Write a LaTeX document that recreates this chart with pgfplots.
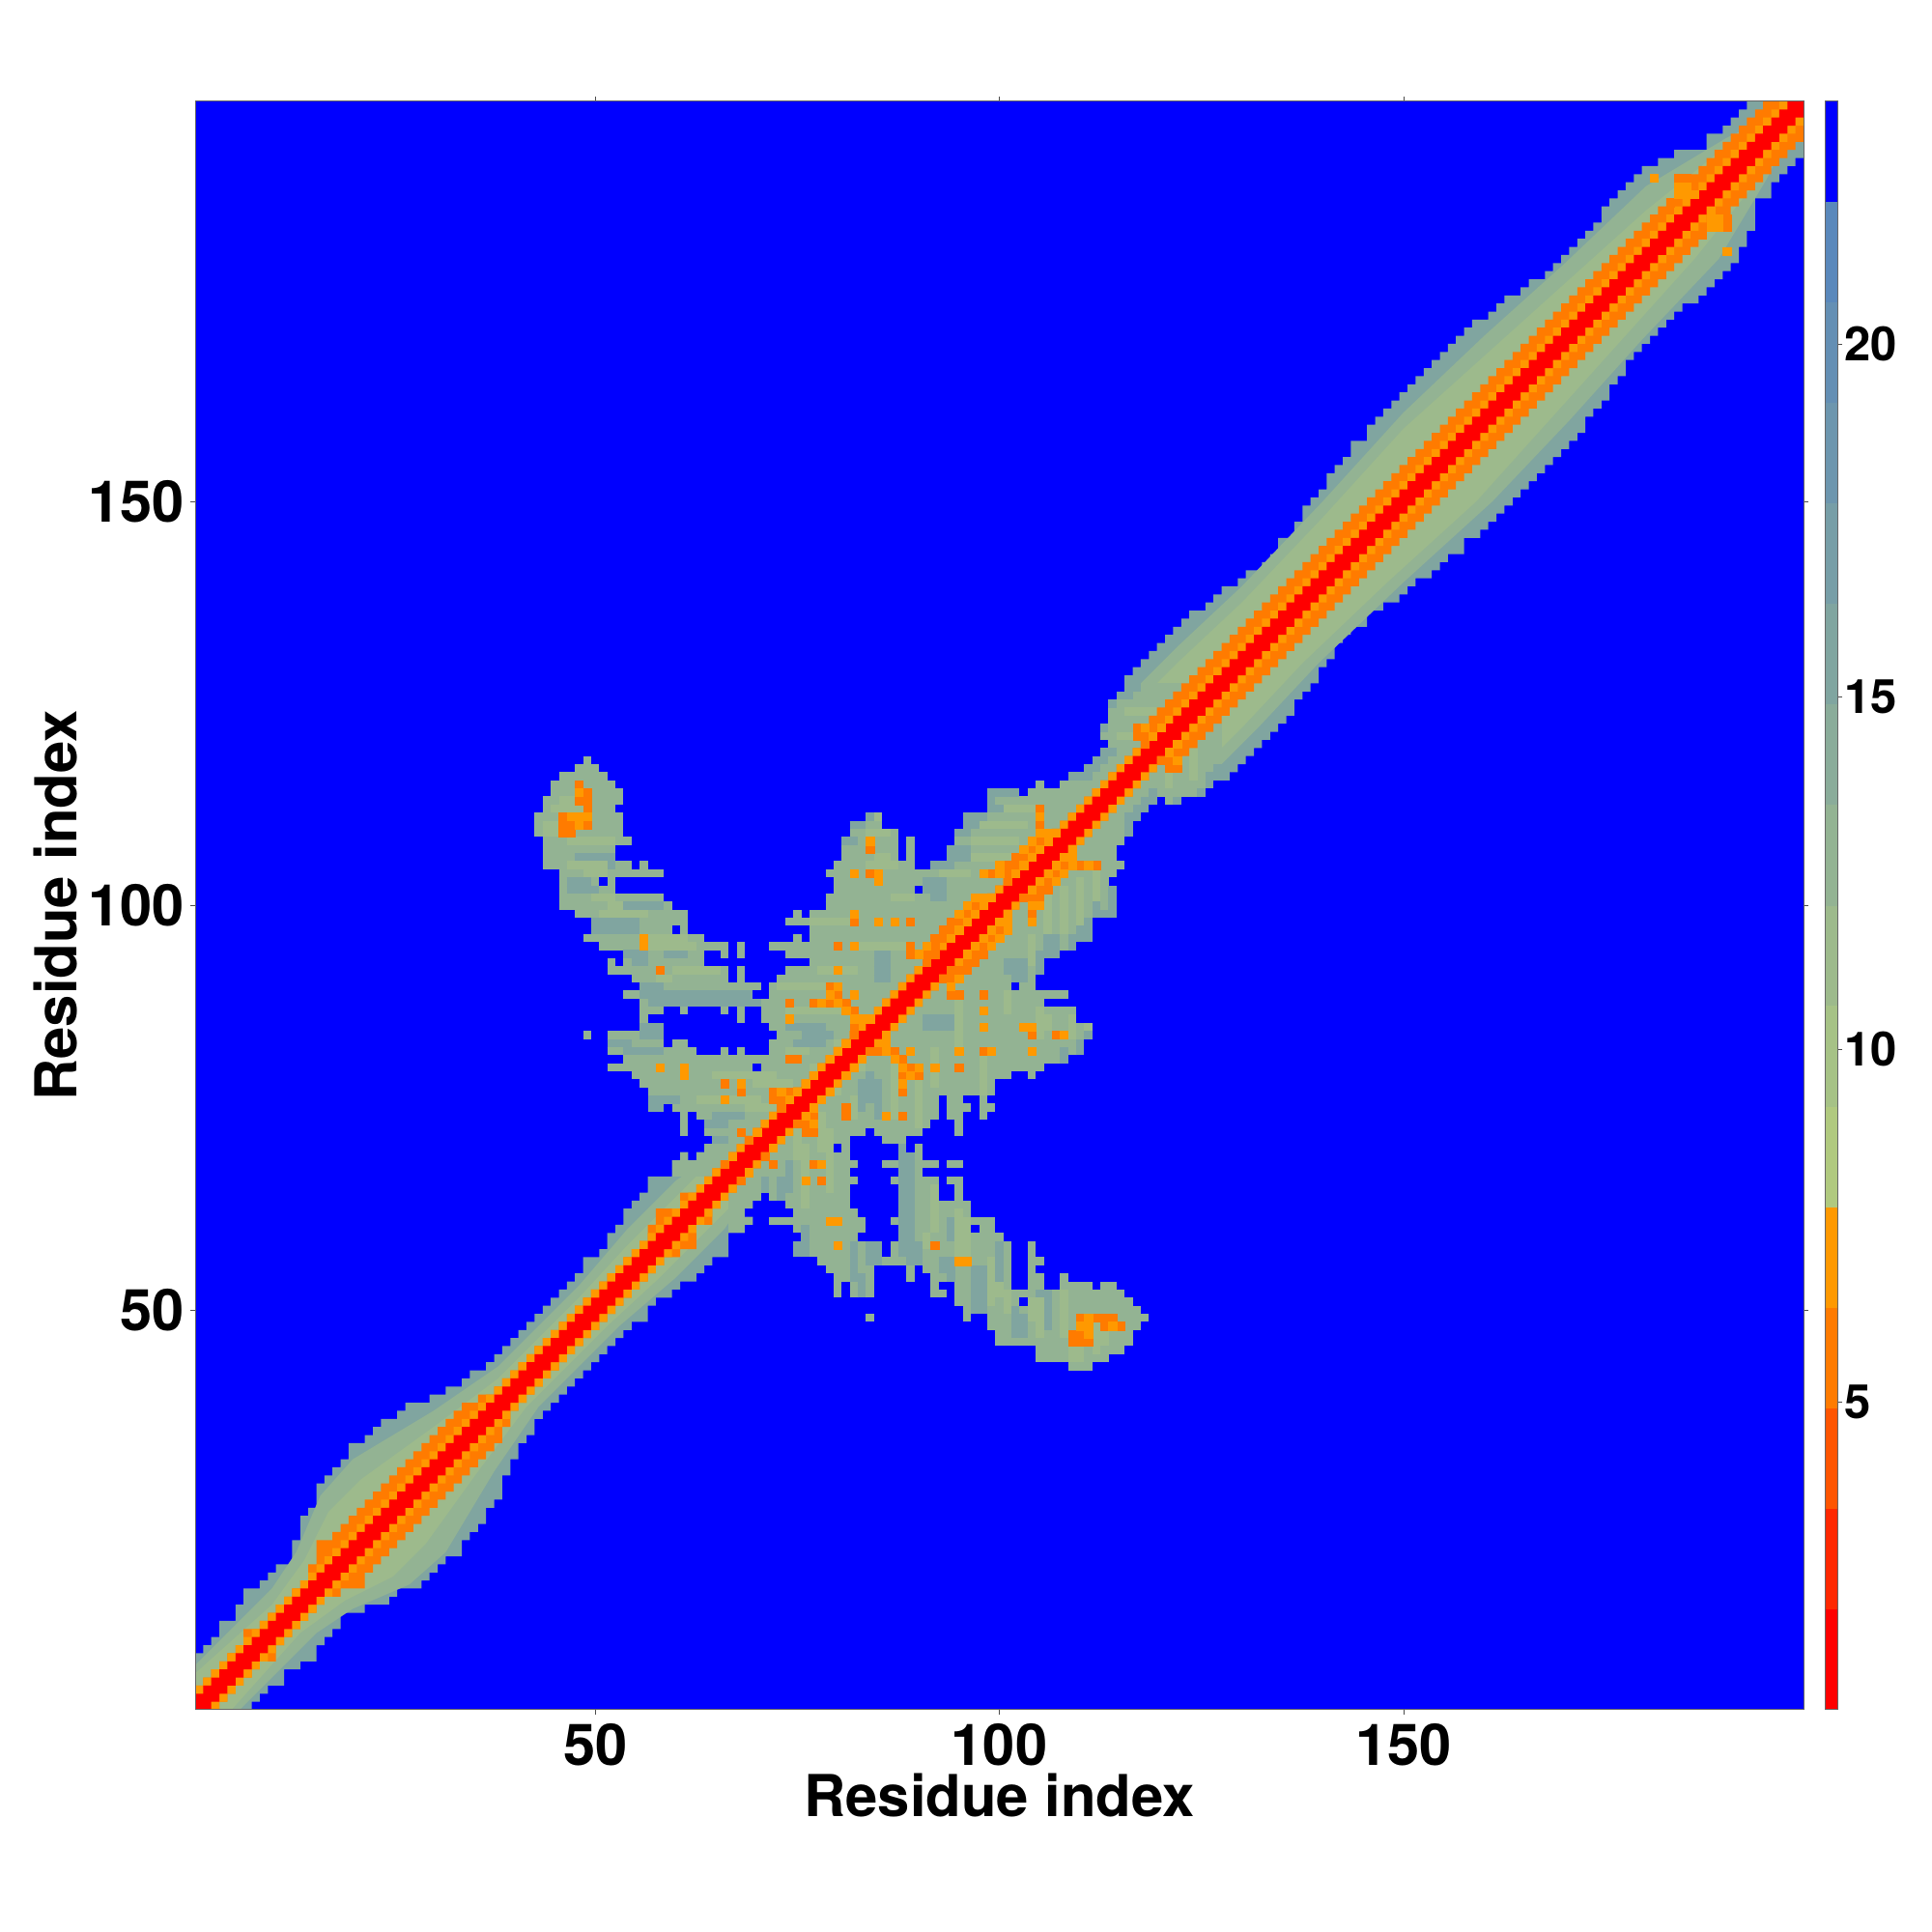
\documentclass[border=0pt]{standalone}
\usepackage{fontspec}
\setmainfont{TeX Gyre Heros}
\usepackage{pgfplots}
\usepackage{pgfplotstable}
\pgfplotsset{compat=1.18}
\definecolor{c0}{RGB}{255,0,0}
\definecolor{c1}{RGB}{255,40,0}
\definecolor{c2}{RGB}{255,85,0}
\definecolor{c3}{RGB}{255,123,0}
\definecolor{c4}{RGB}{255,153,0}
\definecolor{g0}{RGB}{176,201,127}
\definecolor{g1}{RGB}{166,194,134}
\definecolor{g2}{RGB}{157,186,140}
\definecolor{g3}{RGB}{147,179,147}
\definecolor{g4}{RGB}{138,172,154}
\definecolor{g5}{RGB}{128,165,160}
\definecolor{g6}{RGB}{119,158,167}
\definecolor{g7}{RGB}{109,150,174}
\definecolor{g8}{RGB}{100,143,180}
\definecolor{g9}{RGB}{90,136,187}
% band: x = left edge of column; o,d,l,r = top of outer, dark orange, light orange, red
\pgfplotstableread{
x o d l r
0.5 0.5 0.5 0.5 0.5
0.5 7.5 3.5 3.5 2.5
1.5 8.5 4.5 4.5 3.5
2.5 9.5 5.5 5.5 4.5
3.5 11.5 6.5 6.5 5.5
4.5 11.5 7.5 7.5 6.5
5.5 13.5 8.5 8.5 7.5
6.5 15.5 10.5 9.5 8.5
7.5 15.5 10.5 10.5 9.5
8.5 16.5 11.5 11.5 10.5
9.5 17.5 12.5 12.5 11.5
10.5 18.5 13.5 13.5 12.5
11.5 18.5 14.5 14.5 13.5
12.5 21.5 15.5 15.5 14.5
13.5 24.5 16.5 16.5 15.5
14.5 25.5 18.5 17.5 16.5
15.5 28.5 21.5 18.5 17.5
16.5 29.5 21.5 19.5 18.5
17.5 30.5 22.5 20.5 19.5
18.5 31.5 23.5 21.5 20.5
19.5 33.5 24.5 22.5 21.5
20.5 33.5 25.5 23.5 22.5
21.5 34.5 26.5 24.5 23.5
22.5 35.5 27.5 25.5 24.5
23.5 36.5 28.5 26.5 25.5
24.5 36.5 29.5 27.5 26.5
25.5 37.5 30.5 28.5 27.5
26.5 38.5 31.5 29.5 28.5
27.5 38.5 32.5 30.5 29.5
28.5 38.5 33.5 31.5 30.5
29.5 39.5 34.5 32.5 31.5
30.5 39.5 35.5 33.5 32.5
31.5 40.5 36.5 34.5 33.5
32.5 40.5 37.5 35.5 34.5
33.5 41.5 38.5 36.5 35.5
34.5 42.5 38.5 37.5 36.5
35.5 42.5 39.5 38.5 37.5
36.5 43.5 39.5 39.5 38.5
37.5 44.5 40.5 40.5 39.5
38.5 45.5 41.5 41.5 40.5
39.5 46.5 42.5 42.5 41.5
40.5 47.5 43.5 43.5 42.5
41.5 48.5 44.5 44.5 43.5
42.5 49.5 45.5 45.5 44.5
43.5 50.5 46.5 46.5 45.5
44.5 51.5 47.5 47.5 46.5
45.5 52.5 48.5 48.5 47.5
46.5 53.5 49.5 49.5 48.5
47.5 54.5 50.5 50.5 49.5
48.5 56.5 51.5 51.5 50.5
49.5 56.5 52.5 52.5 51.5
50.5 57.5 53.5 53.5 52.5
51.5 59.5 54.5 54.5 53.5
52.5 60.5 55.5 55.5 54.5
53.5 62.5 56.5 56.5 55.5
54.5 63.5 57.5 57.5 56.5
55.5 64.5 58.5 58.5 57.5
56.5 66.5 60.5 59.5 58.5
57.5 66.5 62.5 60.5 59.5
58.5 66.5 62.5 61.5 60.5
59.5 68.5 62.5 62.5 61.5
60.5 69.5 64.5 63.5 62.5
61.5 68.5 64.5 64.5 63.5
62.5 69.5 65.5 65.5 64.5
63.5 70.5 66.5 66.5 65.5
64.5 71.5 67.5 67.5 66.5
65.5 71.5 68.5 68.5 67.5
66.5 72.5 69.5 69.5 68.5
67.5 73.5 70.5 70.5 69.5
68.5 74.5 71.5 71.5 70.5
69.5 75.5 72.5 72.5 71.5
70.5 76.5 73.5 73.5 72.5
71.5 77.5 74.5 74.5 73.5
72.5 78.5 75.5 75.5 74.5
73.5 79.5 76.5 76.5 75.5
74.5 80.5 77.5 77.5 76.5
75.5 81.5 78.5 78.5 77.5
76.5 82.5 79.5 79.5 78.5
77.5 83.5 80.5 80.5 79.5
78.5 84.5 81.5 81.5 80.5
79.5 85.5 82.5 82.5 81.5
80.5 86.5 83.5 83.5 82.5
81.5 87.5 84.5 84.5 83.5
82.5 88.5 85.5 85.5 84.5
83.5 89.5 86.5 86.5 85.5
84.5 90.5 87.5 87.5 86.5
85.5 91.5 88.5 88.5 87.5
86.5 92.5 89.5 89.5 88.5
87.5 93.5 90.5 90.5 89.5
88.5 94.5 91.5 91.5 90.5
89.5 95.5 92.5 92.5 91.5
90.5 96.5 93.5 93.5 92.5
91.5 97.5 94.5 94.5 93.5
92.5 98.5 95.5 95.5 94.5
93.5 99.5 96.5 96.5 95.5
94.5 100.5 97.5 97.5 96.5
95.5 101.5 98.5 98.5 97.5
96.5 102.5 99.5 99.5 98.5
97.5 103.5 100.5 100.5 99.5
98.5 104.5 101.5 101.5 100.5
99.5 105.5 102.5 102.5 101.5
100.5 106.5 103.5 103.5 102.5
101.5 107.5 104.5 104.5 103.5
102.5 108.5 105.5 105.5 104.5
103.5 109.5 106.5 106.5 105.5
104.5 110.5 107.5 107.5 106.5
105.5 111.5 108.5 108.5 107.5
106.5 112.5 109.5 109.5 108.5
107.5 113.5 110.5 110.5 109.5
108.5 114.5 111.5 111.5 110.5
109.5 115.5 112.5 112.5 111.5
110.5 116.5 113.5 113.5 112.5
111.5 117.5 114.5 114.5 113.5
112.5 118.5 115.5 115.5 114.5
113.5 119.5 116.5 116.5 115.5
114.5 120.5 117.5 117.5 116.5
115.5 128.5 118.5 118.5 117.5
116.5 129.5 119.5 119.5 118.5
117.5 130.5 120.5 120.5 119.5
118.5 131.5 123.5 121.5 120.5
119.5 132.5 124.5 122.5 121.5
120.5 133.5 125.5 123.5 122.5
121.5 134.5 126.5 124.5 123.5
122.5 135.5 127.5 125.5 124.5
123.5 136.5 128.5 126.5 125.5
124.5 136.5 129.5 127.5 126.5
125.5 137.5 130.5 128.5 127.5
126.5 138.5 131.5 129.5 128.5
127.5 139.5 132.5 130.5 129.5
128.5 139.5 133.5 131.5 130.5
129.5 140.5 134.5 132.5 131.5
130.5 141.5 135.5 133.5 132.5
131.5 141.5 136.5 134.5 133.5
132.5 142.5 137.5 135.5 134.5
133.5 143.5 138.5 136.5 135.5
134.5 145.5 139.5 137.5 136.5
135.5 145.5 140.5 138.5 137.5
136.5 147.5 141.5 139.5 138.5
137.5 149.5 142.5 140.5 139.5
138.5 150.5 143.5 141.5 140.5
139.5 151.5 144.5 142.5 141.5
140.5 153.5 145.5 143.5 142.5
141.5 154.5 146.5 144.5 143.5
142.5 155.5 147.5 145.5 144.5
143.5 157.5 148.5 146.5 145.5
144.5 157.5 149.5 147.5 146.5
145.5 159.5 150.5 148.5 147.5
146.5 160.5 151.5 149.5 148.5
147.5 161.5 152.5 150.5 149.5
148.5 162.5 153.5 151.5 150.5
149.5 163.5 154.5 152.5 151.5
150.5 164.5 155.5 153.5 152.5
151.5 165.5 156.5 154.5 153.5
152.5 166.5 157.5 155.5 154.5
153.5 167.5 158.5 156.5 155.5
154.5 168.5 159.5 157.5 156.5
155.5 169.5 160.5 158.5 157.5
156.5 170.5 161.5 159.5 158.5
157.5 171.5 162.5 160.5 159.5
158.5 172.5 163.5 161.5 160.5
159.5 172.5 164.5 162.5 161.5
160.5 173.5 165.5 163.5 162.5
161.5 174.5 166.5 164.5 163.5
162.5 175.5 167.5 165.5 164.5
163.5 175.5 168.5 166.5 165.5
164.5 176.5 169.5 167.5 166.5
165.5 177.5 170.5 168.5 167.5
166.5 177.5 171.5 169.5 168.5
167.5 178.5 172.5 170.5 169.5
168.5 179.5 173.5 171.5 170.5
169.5 180.5 174.5 172.5 171.5
170.5 181.5 175.5 173.5 172.5
171.5 182.5 176.5 174.5 173.5
172.5 183.5 177.5 175.5 174.5
173.5 184.5 178.5 176.5 175.5
174.5 186.5 179.5 177.5 176.5
175.5 187.5 180.5 178.5 177.5
176.5 188.5 181.5 179.5 178.5
177.5 189.5 182.5 180.5 179.5
178.5 190.5 183.5 181.5 180.5
179.5 191.5 184.5 182.5 181.5
180.5 191.5 185.5 183.5 182.5
181.5 192.5 186.5 184.5 183.5
182.5 192.5 187.5 185.5 184.5
183.5 193.5 188.5 186.5 185.5
184.5 193.5 189.5 187.5 186.5
185.5 193.5 190.5 188.5 187.5
186.5 193.5 191.5 189.5 188.5
187.5 195.5 192.5 190.5 189.5
188.5 195.5 193.5 191.5 190.5
189.5 196.5 194.5 192.5 191.5
190.5 197.5 195.5 193.5 192.5
191.5 198.5 196.5 194.5 193.5
192.5 199.5 197.5 195.5 194.5
193.5 199.5 198.5 196.5 195.5
194.5 199.5 199.5 197.5 196.5
195.5 199.5 199.5 198.5 197.5
196.5 199.5 199.5 199.5 198.5
197.5 199.5 199.5 199.5 199.5
198.5 199.5 199.5 199.5 199.5
199.5 199.5 199.5 199.5 199.5
}\band
\pgfplotstableread{
x y
0.5 0.5
0.5 6
10 15.5
13 20
16 27
20 31.5
30 37.5
38 43
48 53
54 60
60 66
66 70
115 120
116 126
122 132
130 139.5
140 150
150 161
160 170.5
170 179.5
180 189
190 195
199.5 199.5
}\midband
\pgfplotstableread{
x y
0.5 0.5
0.5 5
10 13.5
14 19
17 25
21 29
30 35.5
38 41.5
48 51.5
54 58
60 64
66 70
115 120
117 125
122 130
130 137.5
140 148
150 159
160 168
170 177
180 186
190 194
199.5 199.5
}\greenband
% cluster: one run per line: row, left edge, length
\pgfplotstableread{
r a n
127 115.5 11.5
126 114.5 11.5
125 113.5 11.5
124 113.5 10.5
123 113.5 9.5
122 112.5 9.5
121 112.5 8.5
120 113.5 6.5
119 112.5 6.5
118 111.5 6.5
118 48.5 1
117 110.5 6.5
117 47.5 3
116 108.5 7.5
116 45.5 6
115 107.5 7.5
115 104.5 1
115 44.5 8
114 98.5 4
114 103.5 10.5
114 44.5 9
113 98.5 14.5
113 43.5 10
112 98.5 13.5
112 43.5 9
111 95.5 15.5
111 83.5 2
111 42.5 11
110 95.5 14.5
110 81.5 4
110 42.5 11
109 94.5 14.5
109 81.5 6
109 42.5 11
108 94.5 13.5
108 80.5 7
108 88.5 1
108 43.5 11
107 93.5 13.5
107 80.5 7
107 88.5 1
107 43.5 9
106 93.5 12.5
106 80.5 7
106 88.5 1
106 43.5 9
105 79.5 10
105 91.5 13.5
105 43.5 11
105 55.5 1
104 78.5 25.5
104 45.5 13
103 79.5 23.5
103 45.5 5
103 51.5 1
102 79.5 10
102 90.5 11.5
102 45.5 7
101 78.5 22.5
101 45.5 13
100 78.5 21.5
100 45.5 14
99 74.5 1
99 76.5 22.5
99 47.5 14
98 73.5 24.5
98 49.5 12
97 76.5 20.5
97 49.5 10
97 60.5 1
96 74.5 1
96 76.5 19.5
96 48.5 15
95 71.5 23.5
95 50.5 16
95 67.5 1
94 73.5 20.5
94 53.5 10
94 65.5 1
94 67.5 1
93 76.5 16.5
93 51.5 1
93 53.5 10
92 73.5 18.5
92 51.5 15
92 67.5 1
91 72.5 18.5
91 54.5 12
91 67.5 1
90 71.5 18.5
90 55.5 15
89 71.5 17.5
89 53.5 16
88 55.5 32.5
87 70.5 16.5
87 55.5 3
87 60.5 1
87 65.5 1
87 67.5 1
86 70.5 15.5
86 55.5 1
86 67.5 1
85 71.5 13.5
85 55.5 3
84 72.5 11.5
84 48.5 1
84 51.5 7
83 71.5 11.5
83 51.5 7
83 59.5 2
82 71.5 10.5
82 51.5 11
82 65.5 1
82 67.5 1
81 53.5 27.5
80 70.5 9.5
80 51.5 18
79 54.5 24.5
78 55.5 22.5
77 56.5 20.5
76 56.5 19.5
75 59.5 15.5
75 56.5 2
74 62.5 11.5
74 60.5 1
73 63.5 9.5
73 60.5 1
72 63.5 8.5
72 60.5 1
71 64.5 6.5
70 63.5 6.5
69 62.5 6.5
69 60.5 1
68 59.5 8.5
67 59.5 7.5
}\cluster
\pgfplotstableread{
r a n
106 47.5 5
105 50.5 2
103 46.5 3
102 46.5 4
100 52.5 6
98 49.5 6
97 49.5 6
94 53.5 3
94 58.5 3
93 54.5 2
90 55.5 3
89 55.5 14
88 56.5 14
85 55.5 3
84 55.5 3
83 51.5 3
82 53.5 5
76 56.5 4
75 56.5 2
74 64.5 4
73 63.5 3
71 64.5 2
94 84.5 2
93 84.5 2
92 84.5 2
91 84.5 2
90 88.5 1
85 73.5 5
84 75.5 4
83 74.5 4
103 90.5 3
102 90.5 3
101 91.5 2
108 80.5 2
110 81.5 2
111 83.5 2
114 98.5 4
113 98.5 1
112 98.5 2
111 95.5 3
110 95.5 2
109 94.5 2
107 93.5 3
106 93.5 3
105 91.5 3
127 115.5 2
126 114.5 2
125 113.5 1
122 112.5 1
119 112.5 2
118 111.5 2
117 110.5 2
116 108.5 3
}\patches
\pgfplotstableread{
r a n
113 45.5 3
112 44.5 5
110 43.5 3
109 43.5 3
108 46.5 6
105 46.5 5
104 48.5 3
101 49.5 3
100 51.5 2
99 50.5 6
96 55.5 6
95 56.5 6
92 59.5 6
91 57.5 2
111 84.5 1
109 83.5 3
106 84.5 2
105 83.5 4
101 86.5 3
98 76.5 5
95 82.5 6
92 77.5 5
90 72.5 6
87 73.5 8
83 79.5 3
82 73.5 3
80 76.5 2
79 64.5 8
78 69.5 5
76 62.5 8
75 68.5 4
112 100.5 4
110 97.5 6
108 96.5 6
106 96.5 7
104 92.5 4
124 115.5 4
121 114.5 4
}\lightruns
\pgfplotstableread{
x y
48 115
49 114
48 113
49 113
49 112
46 111
46 110
47 110
49 110
46 109
47 109
84 107
84 104
82 98
89 98
58 92
80 95
89 95
89 94
91 94
92 94
91 93
92 95
93 96
79 90
80 89
74 88
77 88
79 88
81 88
82 87
82 85
82 84
74 81
75 81
66 78
68 77
72 77
74 77
72 76
73 76
73 75
68 72
69 71
66 68
105 112
105 110
105 108
104 107
102 106
103 106
101 105
102 105
99 104
101 104
101 103
97 100
96 99
94 98
95 98
93 97
94 97
92 96
117 122
119 122
117 121
118 121
118 120
184 190
185 190
183 187
}\darkspots
\pgfplotstableread{
x y
48 114
47 111
48 111
49 111
48 110
84 108
82 104
85 104
85 103
82 99
85 98
87 98
56 96
56 95
82 95
90 94
91 95
80 92
80 90
79 89
82 89
78 88
80 88
81 87
74 86
82 86
83 86
84 86
81 83
80 82
79 81
58 80
61 80
61 79
77 79
76 78
68 78
66 76
73 77
75 77
74 76
70 72
67 69
105 111
105 109
106 109
107 109
104 108
106 108
103 107
105 107
104 106
100 105
103 105
98 104
100 104
102 104
97 101
98 101
99 101
96 100
98 100
95 99
97 99
96 98
95 97
94 96
118 122
120 122
119 121
181 190
184 189
185 189
184 188
185 188
186 188
}\lightspots
\pgfplotsset{
 stairU/.style={const plot mark left,fill=#1,draw=none},
 stairL/.style={const plot mark right,fill=#1,draw=none},
 runsU/.style={draw=none,mark=none,error bars/.cd,x dir=plus,x explicit,error mark=none,error bar style={line width=4.22pt,draw=#1,solid}},
 runsL/.style={draw=none,mark=none,error bars/.cd,y dir=plus,y explicit,error mark=none,error bar style={line width=4.22pt,draw=#1,solid}},
 spots/.style={only marks,mark=square*,mark size=2.05pt,mark options={draw=#1,fill=#1,line width=0.1pt}},
 lvl/.style={fill=#1,draw=none},
}
\begin{document}
\begin{tikzpicture}[x=1pt,y=1pt]
\useasboundingbox[fill=white] (0,0) rectangle (1000,1000);
\begin{axis}[
 at={(101pt,115pt)},anchor=south west,scale only axis,width=832.5pt,height=832.5pt,
 xmin=0.5,xmax=199.5,ymin=0.5,ymax=199.5,
 axis background/.style={fill=blue},
 axis on top,
 xtick={50,100,150},ytick={50,100,150},
 tick pos=both,tick align=outside,major tick length=2.5pt,
 axis line style={line width=0.5pt,draw=black!60},
 every tick/.style={line width=0.3pt,black!70},
 /pgf/number format/assume math mode=true,
 tick label style={font=\fontsize{29.8}{30}\selectfont\bfseries},
 xticklabel style={inner sep=0pt,yshift=-4.5pt},
 yticklabel style={inner sep=0pt,xshift=-3pt},
 xlabel={Residue index},ylabel={Residue index},
 label style={font=\fontsize{29.9}{30}\selectfont\bfseries,inner sep=0pt,outer sep=0pt},
 xlabel style={at={(axis description cs:0.5,-0.0664)},anchor=base},
 ylabel style={at={(axis description cs:-0.0733,0.5)},anchor=base},
]
\addplot[stairU=g5] table[x=x,y=o] {\band};
\addplot[stairL=g5] table[x=o,y=x] {\band};
\addplot[lvl=g3] table[x=x,y=y] {\midband};
\addplot[lvl=g3] table[x=y,y=x] {\midband};
\addplot[lvl=g2] table[x=x,y=y] {\greenband};
\addplot[lvl=g2] table[x=y,y=x] {\greenband};
\addplot[runsU=g3] table[x=a,y=r,x error=n] {\cluster};
\addplot[runsL=g3] table[x=r,y=a,y error=n] {\cluster};
\addplot[runsU=g5] table[x=a,y=r,x error=n] {\patches};
\addplot[runsL=g5] table[x=r,y=a,y error=n] {\patches};
\addplot[runsU=g2] table[x=a,y=r,x error=n] {\lightruns};
\addplot[runsL=g2] table[x=r,y=a,y error=n] {\lightruns};
\addplot[stairU=c3] table[x=x,y=d] {\band};
\addplot[stairL=c3] table[x=d,y=x] {\band};
\addplot[stairU=c4] table[x=x,y=l] {\band};
\addplot[stairL=c4] table[x=l,y=x] {\band};
\addplot[spots=c3] table[x=x,y=y] {\darkspots};
\addplot[spots=c3] table[x=y,y=x] {\darkspots};
\addplot[spots=c4] table[x=x,y=y] {\lightspots};
\addplot[spots=c4] table[x=y,y=x] {\lightspots};
\addplot[stairU=c0] table[x=x,y=r] {\band};
\addplot[stairL=c0] table[x=r,y=x] {\band};
\addplot[c0,line width=3pt] coordinates {(0.5,0.5)(199.5,199.5)};
\end{axis}
\begin{axis}[
 at={(944.5pt,115pt)},anchor=south west,scale only axis,width=6.5pt,height=832.5pt,
 xmin=0,xmax=1,ymin=0.63,ymax=23.44,
 xtick=\empty,ytick={5,10,15,20},
 ytick pos=right,tick align=outside,major tick length=2.5pt,
 axis on top,
 axis line style={line width=0.5pt,draw=black!60},
 every tick/.style={line width=0.3pt,black!70},
 /pgf/number format/assume math mode=true,
 yticklabel style={font=\fontsize{24.5}{25}\selectfont\bfseries,inner sep=0pt,xshift=1pt},
]
\addplot[lvl=c0] coordinates {(0,0.63)(1,0.63)(1,2.056)(0,2.056)};
\addplot[lvl=c1] coordinates {(0,2.056)(1,2.056)(1,3.481)(0,3.481)};
\addplot[lvl=c2] coordinates {(0,3.481)(1,3.481)(1,4.907)(0,4.907)};
\addplot[lvl=c3] coordinates {(0,4.907)(1,4.907)(1,6.332)(0,6.332)};
\addplot[lvl=c4] coordinates {(0,6.332)(1,6.332)(1,7.758)(0,7.758)};
\addplot[lvl=g0] coordinates {(0,7.758)(1,7.758)(1,9.184)(0,9.184)};
\addplot[lvl=g1] coordinates {(0,9.184)(1,9.184)(1,10.61)(0,10.61)};
\addplot[lvl=g2] coordinates {(0,10.61)(1,10.61)(1,12.03)(0,12.03)};
\addplot[lvl=g3] coordinates {(0,12.03)(1,12.03)(1,13.46)(0,13.46)};
\addplot[lvl=g4] coordinates {(0,13.46)(1,13.46)(1,14.89)(0,14.89)};
\addplot[lvl=g5] coordinates {(0,14.89)(1,14.89)(1,16.31)(0,16.31)};
\addplot[lvl=g6] coordinates {(0,16.31)(1,16.31)(1,17.74)(0,17.74)};
\addplot[lvl=g7] coordinates {(0,17.74)(1,17.74)(1,19.16)(0,19.16)};
\addplot[lvl=g8] coordinates {(0,19.16)(1,19.16)(1,20.59)(0,20.59)};
\addplot[lvl=g9] coordinates {(0,20.59)(1,20.59)(1,22.01)(0,22.01)};
\addplot[lvl=blue] coordinates {(0,22.01)(1,22.01)(1,23.44)(0,23.44)};
\end{axis}
\end{tikzpicture}
\end{document}
